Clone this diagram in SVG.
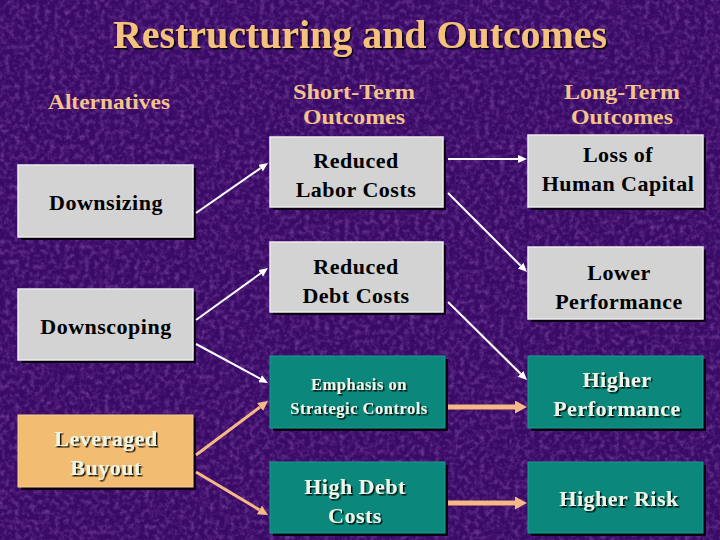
<svg xmlns="http://www.w3.org/2000/svg" width="720" height="540" viewBox="0 0 720 540">
<defs>
<filter id="tex" x="0" y="0" width="100%" height="100%">
<feTurbulence type="fractalNoise" baseFrequency="0.2" numOctaves="3" seed="4"/>
<feColorMatrix type="matrix" values="0 0 0 0 0.36  0 0 0 0 0.15  0 0 0 0 0.52  0 0 0 1.0 -0.42"/>
</filter>
<filter id="ts" x="-10%" y="-20%" width="130%" height="150%">
<feDropShadow dx="1.5" dy="1.5" stdDeviation="0.3" flood-color="#000" flood-opacity="0.9"/>
</filter>
<marker id="aw" viewBox="0 0 10 10" refX="0" refY="5" markerWidth="9" markerHeight="8" markerUnits="userSpaceOnUse" orient="auto" preserveAspectRatio="none"><path d="M0,0 L10,5 L0,10 z" fill="#ffffff"/></marker>
<marker id="ao" viewBox="0 0 10 10" refX="0" refY="5" markerWidth="10" markerHeight="10" markerUnits="userSpaceOnUse" orient="auto" preserveAspectRatio="none"><path d="M0,0 L10,5 L0,10 z" fill="#f6b985"/></marker>
<marker id="ao2" viewBox="0 0 10 10" refX="0" refY="5" markerWidth="12" markerHeight="13" markerUnits="userSpaceOnUse" orient="auto" preserveAspectRatio="none"><path d="M0,0 L10,5 L0,10 z" fill="#f6b985"/></marker>
</defs>
<style>
.bg{fill:#3a0a67}
.title{font-family:"Liberation Serif",serif;font-weight:bold;fill:#f4c27c}
.hdr{font-family:"Liberation Serif",serif;font-weight:bold;font-size:21px;fill:#f4c48a;text-anchor:middle}
.shadow{fill:#0a0010}
.gray{fill:#d3d3d3;stroke:#ececec;stroke-width:1.5}
.teal{fill:#0b877c;stroke:#1a9a8e;stroke-width:1}
.orange{fill:#f2bd72;stroke:#f7cf92;stroke-width:1}
.tk{font-family:"Liberation Serif",serif;font-weight:bold;font-size:22px;fill:#000;text-anchor:middle;letter-spacing:0.5px}
.tw{font-family:"Liberation Serif",serif;font-weight:bold;font-size:22px;fill:#eef6e8;text-anchor:middle;letter-spacing:0.5px;filter:url(#ts)}
.tws{font-size:16.5px}
.cw{stroke:#ffffff;stroke-width:2;fill:none;marker-end:url(#aw)}
.co{stroke:#f6b985;stroke-width:3;fill:none;marker-end:url(#ao)}
.co2{stroke:#f6b985;stroke-width:5;fill:none;marker-end:url(#ao2)}
</style>
<rect class="bg" x="0" y="0" width="720" height="540"/>
<rect x="0" y="0" width="720" height="540" filter="url(#tex)"/>
<text class="title" x="360" y="48" font-size="40" text-anchor="middle" textLength="494" lengthAdjust="spacingAndGlyphs" filter="url(#ts)">Restructuring and Outcomes</text>
<g id="headers">
<text class="hdr" x="109" y="109" textLength="122" lengthAdjust="spacingAndGlyphs">Alternatives</text>
<text class="hdr" x="354" y="99" textLength="122" lengthAdjust="spacingAndGlyphs">Short-Term</text>
<text class="hdr" x="354" y="124" textLength="102" lengthAdjust="spacingAndGlyphs">Outcomes</text>
<text class="hdr" x="622" y="99" textLength="116" lengthAdjust="spacingAndGlyphs">Long-Term</text>
<text class="hdr" x="622" y="124" textLength="102" lengthAdjust="spacingAndGlyphs">Outcomes</text>
</g>
<g id="downsizing">
<rect class="shadow" x="21" y="168" width="175" height="72"/>
<rect class="gray" x="18" y="165" width="175" height="72"/>
<text class="tk" x="106" y="210">Downsizing</text>
</g>
<g id="downscoping">
<rect class="shadow" x="21" y="292" width="175" height="71"/>
<rect class="gray" x="18" y="289" width="175" height="71"/>
<text class="tk" x="106" y="334">Downscoping</text>
</g>
<g id="leveraged-buyout">
<rect class="shadow" x="21" y="418" width="175" height="72"/>
<rect class="orange" x="18" y="415" width="175" height="72"/>
<text class="tw" x="106" y="446">Leveraged</text>
<text class="tw" x="106" y="475">Buyout</text>
</g>
<g id="reduced-labor-costs">
<rect class="shadow" x="273" y="140" width="173" height="70"/>
<rect class="gray" x="270" y="137" width="173" height="70"/>
<text class="tk" x="356" y="168">Reduced</text>
<text class="tk" x="356" y="197">Labor Costs</text>
</g>
<g id="reduced-debt-costs">
<rect class="shadow" x="273" y="245" width="173" height="70"/>
<rect class="gray" x="270" y="242" width="173" height="70"/>
<text class="tk" x="356" y="274">Reduced</text>
<text class="tk" x="356" y="303">Debt Costs</text>
</g>
<g id="emphasis-strategic-controls">
<rect class="shadow" x="273" y="359" width="175" height="72"/>
<rect class="teal" x="270" y="356" width="175" height="72"/>
<text class="tw tws" x="359" y="390">Emphasis on</text>
<text class="tw tws" x="359" y="414">Strategic Controls</text>
</g>
<g id="high-debt-costs">
<rect class="shadow" x="273" y="465" width="175" height="71"/>
<rect class="teal" x="270" y="462" width="175" height="71"/>
<text class="tw" x="355" y="494">High Debt</text>
<text class="tw" x="355" y="523">Costs</text>
</g>
<g id="loss-human-capital">
<rect class="shadow" x="531" y="138" width="175" height="72"/>
<rect class="gray" x="528" y="135" width="175" height="72"/>
<text class="tk" x="618" y="162">Loss of</text>
<text class="tk" x="618" y="191">Human Capital</text>
</g>
<g id="lower-performance">
<rect class="shadow" x="531" y="250" width="175" height="72"/>
<rect class="gray" x="528" y="247" width="175" height="72"/>
<text class="tk" x="619" y="280">Lower</text>
<text class="tk" x="619" y="309">Performance</text>
</g>
<g id="higher-performance">
<rect class="shadow" x="531" y="359" width="175" height="72"/>
<rect class="teal" x="528" y="356" width="175" height="72"/>
<text class="tw" x="617" y="387">Higher</text>
<text class="tw" x="617" y="416">Performance</text>
</g>
<g id="higher-risk">
<rect class="shadow" x="531" y="465" width="175" height="71"/>
<rect class="teal" x="528" y="462" width="175" height="71"/>
<text class="tw" x="619" y="506">Higher Risk</text>
</g>
<g id="connectors">
<line class="cw" x1="196" y1="213" x2="260.6" y2="168.1"/>
<line class="cw" x1="196" y1="320" x2="260.7" y2="273.3"/>
<line class="cw" x1="196" y1="344" x2="260.1" y2="378.7"/>
<line class="cw" x1="448" y1="159" x2="518" y2="159"/>
<line class="cw" x1="448" y1="193" x2="520.6" y2="265.6"/>
<line class="cw" x1="448" y1="302" x2="520.6" y2="373.7"/>
<line class="co" x1="196" y1="455" x2="260" y2="407"/>
<line class="co" x1="196" y1="472" x2="259.4" y2="509.9"/>
<line class="co2" x1="448" y1="407" x2="515" y2="407"/>
<line class="co2" x1="448" y1="503" x2="515" y2="503"/>
</g>
</svg>
